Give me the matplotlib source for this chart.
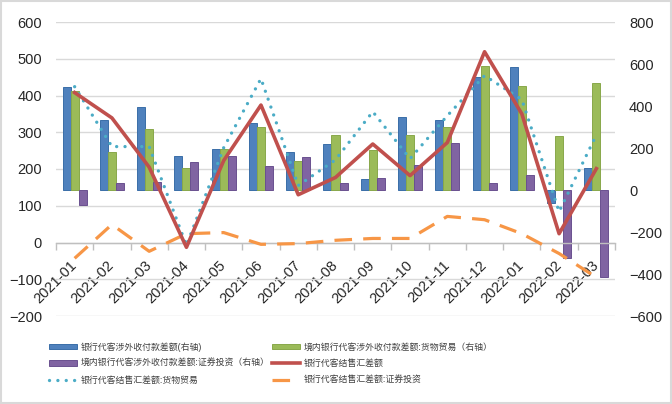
import numpy as np
import matplotlib
matplotlib.use("Agg")
import matplotlib.pyplot as plt
from matplotlib.patches import Rectangle
from matplotlib.transforms import ScaledTranslation

months = ["2021-01", "2021-02", "2021-03", "2021-04", "2021-05", "2021-06", "2021-07",
          "2021-08", "2021-09", "2021-10", "2021-11", "2021-12", "2022-01", "2022-02", "2022-03"]

# 右轴（柱）
shewai_total = [489, 333, 395, 162, 195, 319, 181, 219, 52, 348, 333, 538, 586, -62, 105]
shewai_goods = [473, 181, 290, 105, 195, 300, 138, 262, 190, 262, 300, 590, 495, 257, 510]
shewai_sec = [-71, 35, 38, 133, 162, 114, 157, 33, 57, 119, 224, 33, 71, -324, -414]

# 左轴（线）
jsh_total = [408, 339, 205, -13, 223, 374, 130, 177, 268, 182, 272, 519, 350, 24, 201]
jsh_goods = [424, 261, 261, -8, 258, 446, 155, 225, 356, 228, 345, 454, 389, 84, 293]
jsh_sec = [-43, 49, -24, 24, 27, -5, -3, 6, 11, 11, 71, 62, 24, -30, -95]

left_ticks = [-200, -100, 0, 100, 200, 300, 400, 500, 600]
right_ticks = [-600, -400, -200, 0, 200, 400, 600, 800]

plt.rcParams['font.family'] = ['Liberation Sans', 'Noto Sans CJK SC', 'DejaVu Sans']


def to_left(r):
    return (np.asarray(r, dtype=float) + 600) * 800 / 1400 - 200


def to_right(v):
    return (np.asarray(v, dtype=float) + 200) * 1400 / 800 - 600


fig = plt.figure(figsize=(6.72, 4.04), dpi=100)
ax = fig.add_axes([56 / 672, 88 / 404, 559 / 672, 294 / 404])

x = np.arange(len(months))
w = 0.215
base = to_left(0)

ax.bar(x - w, to_left(shewai_total) - base, w, bottom=base, color="#4F81BD",
       edgecolor="#3A6EA8", linewidth=0.7, zorder=2, label="银行代客涉外收付款差额(右轴)")
ax.bar(x, to_left(shewai_goods) - base, w, bottom=base, color="#9BBB59",
       edgecolor="#88A84A", linewidth=0.7, zorder=2, label="境内银行代客涉外收付款差额:货物贸易（右轴）")
ax.bar(x + w, to_left(shewai_sec) - base, w, bottom=base, color="#8064A2",
       edgecolor="#6A5090", linewidth=0.7, zorder=2, label="境内银行代客涉外收付款差额:证券投资（右轴）")

ax.plot(x, jsh_total, color="#C0504D", lw=2.6, zorder=4, label="银行代客结售汇差额")
ax.plot(x, jsh_goods, color="#4BACC6", lw=2.4, linestyle=(0, (0.01, 2.5)),
        dash_capstyle="round", zorder=3, label="银行代客结售汇差额:货物贸易")
ax.plot(x, jsh_sec, color="#F79646", lw=2.3, linestyle=(0, (5.5, 3.5)),
        zorder=3, label="银行代客结售汇差额:证券投资")

ax.set_xlim(-0.5, len(months) - 0.5)
ax.set_ylim(-200, 600)
ax.set_yticks(left_ticks)
ax.grid(axis="y", color="#D9D9D9", lw=1.0)
ax.set_axisbelow(True)

for s in ["top", "left", "right"]:
    ax.spines[s].set_visible(False)
ax.spines["bottom"].set_position(("data", 0))
ax.spines["bottom"].set_color("#BFBFBF")
ax.spines["bottom"].set_linewidth(1.0)

ax.set_xticks(x)
ax.set_xticklabels(months, rotation=45, ha="right", va="center", rotation_mode="anchor",
                   fontsize=10.5, color="#262626")
shift = ScaledTranslation(3 / 72, 0, fig.dpi_scale_trans)
for t in ax.get_xticklabels():
    t.set_transform(t.get_transform() + shift)
ax.set_xticks(np.arange(len(months) + 1) - 0.5, minor=True)
ax.tick_params(axis="x", which="major", length=0, pad=15)
ax.tick_params(axis="x", which="minor", length=5, color="#BFBFBF", width=1.0)
ax.tick_params(axis="y", length=0, pad=10, labelsize=10.5, labelcolor="#262626")

sec = ax.secondary_yaxis("right", functions=(to_right, to_left))
sec.set_yticks(right_ticks)
sec.spines["right"].set_visible(False)
sec.tick_params(length=0, pad=10, labelsize=10.5, labelcolor="#262626")

h, l = ax.get_legend_handles_labels()
# 第一列：两种柱 + 点线；第二列：柱 + 两条线
order = [3, 5, 1, 4, 0, 2]
fig.legend([h[i] for i in order], [l[i] for i in order], loc="upper left",
           bbox_to_anchor=(41 / 672, 1 - 334 / 404), ncol=2, frameon=False,
           fontsize=6.4, handlelength=3.2, handleheight=0.6, columnspacing=0.2,
           labelspacing=0.85, handletextpad=0.4, labelcolor="#404040")

fig.add_artist(Rectangle((0.002, 0.003), 0.996, 0.994, transform=fig.transFigure,
                         fill=False, edgecolor="#D9D9D9", lw=1.5))

fig.savefig("out.png", dpi=100)
